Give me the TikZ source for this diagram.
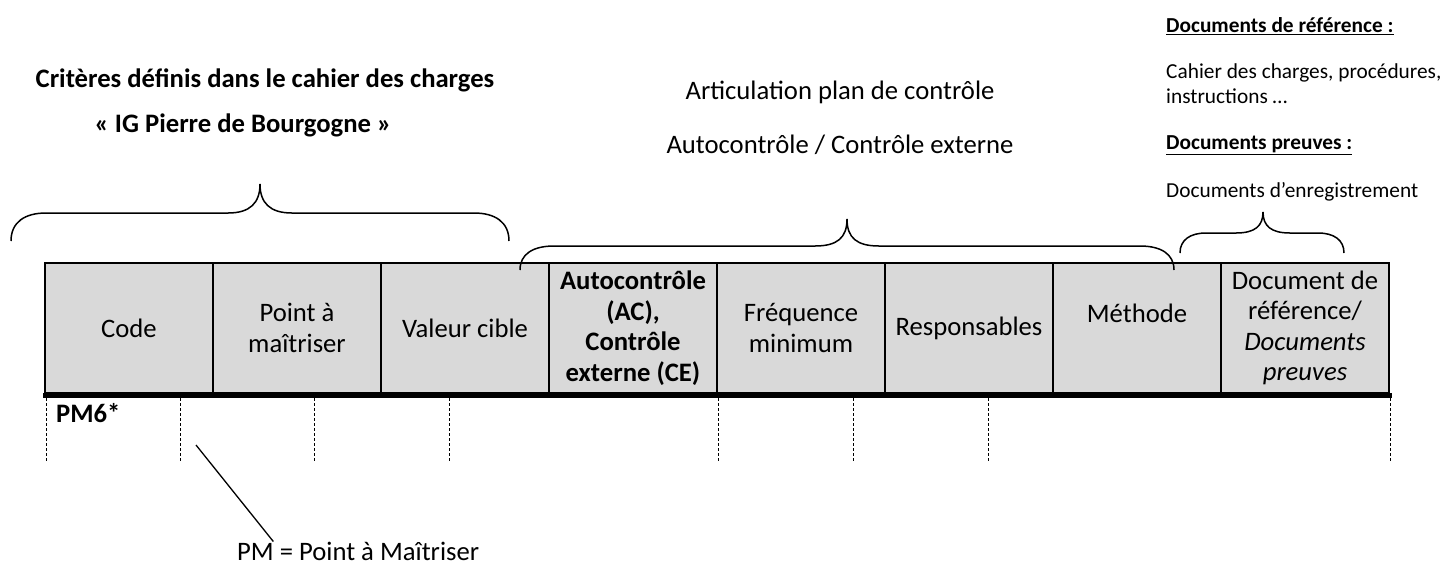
\documentclass[tikz,border=0pt]{standalone}
\usepackage{fontspec}
\setmainfont{Carlito}
\usetikzlibrary{positioning,calc}
\definecolor{headgray}{HTML}{D9D9D9}

\begin{document}
\begin{tikzpicture}[x=1pt,y=-1pt,
  head cell/.style={rectangle,draw,fill=headgray,line width=1.8pt,minimum width=168pt,minimum height=130pt,inner sep=0pt,outer sep=0pt,align=center,font=\fontsize{26.67}{30.5}\selectfont},
  big text/.style={inner sep=0pt,font=\fontsize{26.67}{30.5}\selectfont},
  small text/.style={inner sep=0pt,anchor=west,align=left,font=\fontsize{21.33}{25}\selectfont},
  brace line/.style={line width=1.5pt},
  dash line/.style={line width=0.8pt,dash pattern=on 3pt off 2pt}]

  \useasboundingbox (0,0) rectangle (1445,566);

  \node[head cell] (code) at (129,328) {Code};
  \node[head cell] (pam) [right=0pt of code] {Point à\\maîtriser};
  \node[head cell] (target) [right=0pt of pam] {Valeur cible};
  \node[head cell] (acce) [right=0pt of target] {\textbf{Autocontrôle}\\\textbf{(AC),}\\\textbf{Contrôle}\\\textbf{externe (CE)}};
  \node[head cell] (freq) [right=0pt of acce] {Fréquence\\minimum};
  \node[head cell] (resp) [right=0pt of freq] {Responsables};
  \node[head cell] (method) [right=0pt of resp] {Méthode\\\mbox{}};
  \node[head cell] (proofs) [right=0pt of method] {Document de\\référence/\\\textit{Documents}\\\textit{preuves}};

  \draw[line width=5pt] ([xshift=-2pt,yshift=-2pt]code.south west) -- ([xshift=3pt,yshift=-2pt]proofs.south east);
  \foreach \x in {46,180,314,449,718,853,988,1390}
    \draw[dash line] (\x,398) -- (\x,462);

  \node[big text] (critTitle) at (265,80) {\textbf{Critères définis dans le cahier des charges}};
  \node[big text] (igTitle) at (243,125) {\textbf{« IG Pierre de Bourgogne »}};
  \node[big text] (planTitle) at (840,92) {Articulation plan de contrôle};
  \node[big text] (planSub) at (840,145) {Autocontrôle / Contrôle externe};

  \node[small text] (refHead) at (1166,26) {\underline{\textbf{Documents de référence :}}};
  \node[small text] (refBody) at (1166,84) {Cahier des charges, procédures,\\instructions …};
  \node[small text] (proofHead) at (1166,145) {\underline{\textbf{Documents preuves :}}};
  \node[small text] (proofBody) at (1166,192) {Documents d’enregistrement};

  \draw[brace line] (11,241) .. controls (11,222) and (25,213) .. (46,213) -- (228,213)
    .. controls (250,213) and (260,203) .. (260,184) .. controls (260,203) and (270,213) .. (292,213)
    -- (474,213) .. controls (495,213) and (509,222) .. (509,241);
  \draw[brace line] (520,270) .. controls (520,254) and (533,246) .. (554,246) -- (815,246)
    .. controls (837,246) and (847,238) .. (847,219) .. controls (847,238) and (857,246) .. (879,246)
    -- (1140,246) .. controls (1161,246) and (1174,254) .. (1174,270);
  \draw[brace line] (1180,253) .. controls (1180,240) and (1190,233) .. (1206,233) -- (1236,233)
    .. controls (1255,233) and (1263,226) .. (1263,212) .. controls (1263,226) and (1271,233) .. (1290,233)
    -- (1318,233) .. controls (1334,233) and (1344,240) .. (1344,253);

  \node[big text] (pmSix) [anchor=west] at (56,413) {\textbf{PM6*}};
  \node[big text] (pmNote) [anchor=west] at (237,551) {PM = Point à Maîtriser};
  \coordinate (pmTip) at (196,445);
  \draw[line width=1.3pt] (pmTip) -- ($(pmNote.north west)!0.15!(pmNote.north east)$);
\end{tikzpicture}
\end{document}
